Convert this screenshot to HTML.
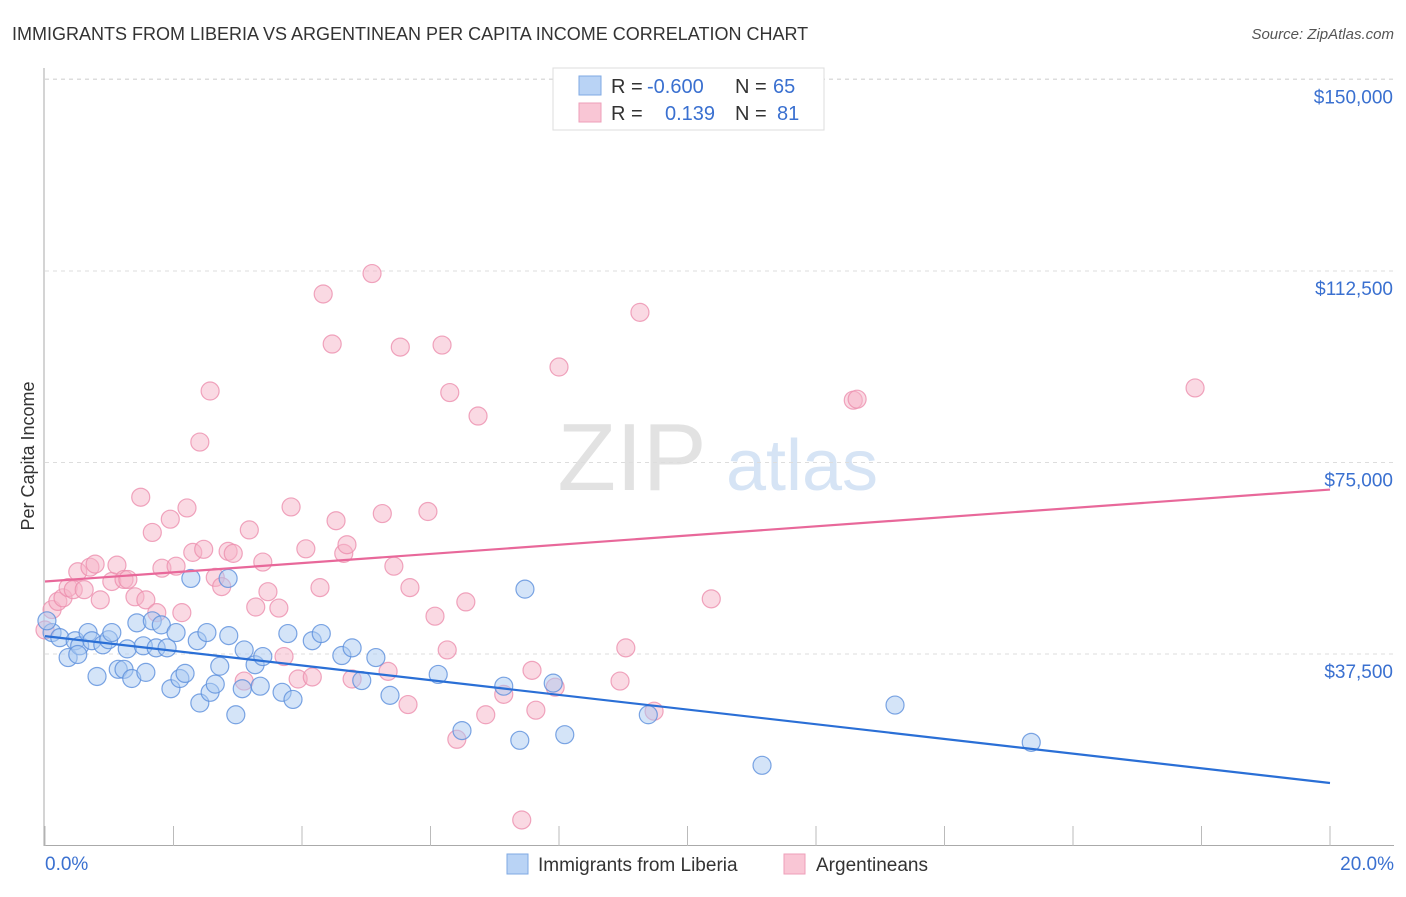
<!DOCTYPE html>
<html><head><meta charset="utf-8"><style>
body{margin:0;background:#fff;font-family:"Liberation Sans",sans-serif}
svg text{font-family:"Liberation Sans",sans-serif}
</style></head><body>
<svg id="c" width="1406" height="892" xmlns="http://www.w3.org/2000/svg">
<text x="12" y="40" font-size="18" fill="#333">IMMIGRANTS FROM LIBERIA VS ARGENTINEAN PER CAPITA INCOME CORRELATION CHART</text>
<text x="1394" y="39" font-size="15" fill="#555" text-anchor="end" font-style="italic">Source: ZipAtlas.com</text>
<text x="632" y="490" font-size="96" fill="#e2e2e2" font-family="Liberation Serif" text-anchor="middle">ZIP</text>
<text x="802" y="490" font-size="72" fill="#d6e4f5" text-anchor="middle">atlas</text>
<text transform="translate(34,456) rotate(-90)" font-size="18" fill="#333" text-anchor="middle">Per Capita Income</text>
<g id="grid"></g><g id="marks"></g>
<g>
<rect x="553" y="68" width="271" height="62" fill="#fff" stroke="#ddd"/>
<rect x="579" y="76" width="22" height="19" fill="#b9d3f5" stroke="#7fa9e3"/>
<rect x="579" y="103" width="22" height="19" fill="#f9c6d5" stroke="#ee9fb9"/>
<text y="93" font-size="20" fill="#333"><tspan x="611">R =</tspan><tspan x="647" fill="#3a70d0">-0.600</tspan><tspan x="735">N =</tspan><tspan x="773" fill="#3a70d0">65</tspan></text>
<text y="120" font-size="20" fill="#333"><tspan x="611">R =</tspan><tspan fill="#3a70d0" x="665">0.139</tspan><tspan x="735">N =</tspan><tspan fill="#3a70d0" x="777">81</tspan></text>
</g>
<g>
<rect x="507" y="854" width="21" height="20" fill="#b9d3f5" stroke="#7fa9e3"/>
<text x="538" y="871" font-size="19" fill="#333">Immigrants from Liberia</text>
<rect x="784" y="854" width="21" height="20" fill="#f9c6d5" stroke="#ee9fb9"/>
<text x="816" y="871" font-size="19" fill="#333">Argentineans</text>
</g>
<text x="45" y="870" font-size="19" fill="#3a70d0">0.0%</text>
<text x="1394" y="870" font-size="19" fill="#3a70d0" text-anchor="end">20.0%</text>
</svg>
<script>
const yTicks=[37500,75000,112500,150000];
const yTickLabels=["$37,500","$75,000","$112,500","$150,000"];
const blueX=[0.11,0.23,0.36,0.47,0.54,0.67,0.51,0.81,0.73,0.90,0.99,1.04,1.14,1.23,1.28,1.35,1.43,1.53,1.57,1.67,1.73,1.81,1.90,1.96,2.04,2.10,2.18,2.27,2.37,2.41,2.52,2.57,2.65,2.72,2.85,2.86,2.97,3.07,3.10,3.27,3.35,3.39,3.69,3.78,3.86,4.16,4.30,4.62,4.78,4.93,5.15,5.37,6.12,6.49,7.14,7.39,7.47,7.91,8.09,9.39,11.16,13.23,15.35,0.03];
const blueY=[41.7,40.7,36.8,40.1,39.1,41.7,37.4,33.1,40.1,39.3,40.3,41.7,34.5,34.5,38.5,32.7,43.6,39.1,33.9,44.0,38.7,43.2,38.7,30.7,41.7,32.7,33.7,52.3,40.1,27.9,41.7,30.0,31.6,35.1,52.3,41.1,25.6,30.7,38.3,35.4,31.2,37.0,30.0,41.5,28.6,40.1,41.5,37.2,38.7,32.3,36.8,29.4,33.5,22.5,31.2,20.6,50.2,31.8,21.7,25.6,15.7,27.5,20.2,44.0];
const pinkX=[0,0.11,0.2,0.28,0.36,0.44,0.51,0.61,0.7,0.78,0.86,1.04,1.12,1.23,1.29,1.4,1.49,1.57,1.67,1.74,1.82,1.95,2.04,2.13,2.21,2.30,2.41,2.47,2.57,2.65,2.75,2.85,2.93,3.10,3.18,3.28,3.39,3.47,3.64,3.72,3.83,3.94,4.06,4.16,4.28,4.33,4.47,4.53,4.65,4.70,4.78,5.09,5.25,5.34,5.43,5.53,5.65,5.68,5.96,6.07,6.18,6.26,6.30,6.41,6.55,6.74,6.86,7.14,7.42,7.58,7.64,7.94,8.0,8.95,9.04,9.26,9.48,10.37,12.58,12.64,17.90];
const pinkY=[42.2,46.2,47.8,48.5,50.5,50.1,53.6,50.1,54.5,55.1,48.1,51.7,54.9,52.1,52.1,48.7,68.2,48.1,61.3,45.6,54.3,63.9,54.7,45.6,66.1,57.4,79.0,58.0,89.0,52.5,50.7,57.6,57.2,32.2,61.8,46.7,55.5,49.7,46.5,37.0,66.3,32.6,58.1,33.0,50.5,108.0,98.2,63.6,57.2,58.9,32.6,112.0,65.0,34.1,54.7,97.6,27.6,50.5,65.4,44.9,98.0,38.3,88.7,20.8,47.7,84.1,25.6,29.6,5.0,34.3,26.5,31.0,93.7,32.2,38.7,104.4,26.3,48.3,87.2,87.4,89.6];
const blueTrend=[[0,41.0],[20,12.24]];
const pinkTrend=[[0,51.7],[20,69.7]];
const X0=45,XPX=64.25,Y0=845.5,YPX=191.5/37500;
const xs=v=>X0+v*XPX, ys=v=>Y0-v*YPX;
const NS="http://www.w3.org/2000/svg";
const gridG=document.getElementById('grid'),marksG=document.getElementById('marks');
function mk(tag,at,par){const e=document.createElementNS(NS,tag);for(const k in at)e.setAttribute(k,at[k]);par.appendChild(e);return e;}
const topLine=mk('line',{x1:45,x2:1394,y1:79,y2:79,stroke:'#ddd','stroke-dasharray':'4,4'},gridG);


yTicks.forEach((t,i)=>{
 const l=mk('line',{x1:45,x2:1394,y1:ys(t),y2:ys(t),stroke:'#ddd','stroke-dasharray':'4,4'},gridG);
 
 
 const tx=mk('text',{x:1393,y:ys(t)+24,'font-size':19,fill:'#3a70d0','text-anchor':'end'},gridG);
 tx.textContent=yTickLabels[i];
 
 
});
const ax=mk('line',{x1:44,x2:44,y1:68,y2:846,stroke:'#aaa'},gridG);


const bx=mk('line',{x1:44,x2:1394,y1:845.5,y2:845.5,stroke:'#aaa'},gridG);


for(let i=0;i<=10;i++){
 const t=mk('line',{x1:xs(i*2),x2:xs(i*2),y1:826,y2:846,stroke:'#bbb'},gridG);
 
 
}
function pts(X,Y,fill,stroke,name){
 X.forEach((x,i)=>{
  const c=mk('circle',{cx:xs(x),cy:ys(Y[i]*1000),r:9,fill:fill,'fill-opacity':0.5,stroke:stroke,'stroke-opacity':0.8,'stroke-width':1.2},marksG);
  
  
 });
}
pts(pinkX,pinkY,'#f5b3c7','#ec8fae','argentinean-point');
pts(blueX,blueY,'#a9c9f1','#5b8fdc','liberia-point');
function trend(T,col,name){
 const l=mk('line',{x1:xs(T[0][0]),y1:ys(T[0][1]*1000),x2:xs(T[1][0]),y2:ys(T[1][1]*1000),stroke:col,'stroke-width':2.2},marksG);
 
 
}
trend(pinkTrend,'#e8689a','argentinean-trendline');
trend(blueTrend,'#2a6fd6','liberia-trendline');
</script>
</body></html>
